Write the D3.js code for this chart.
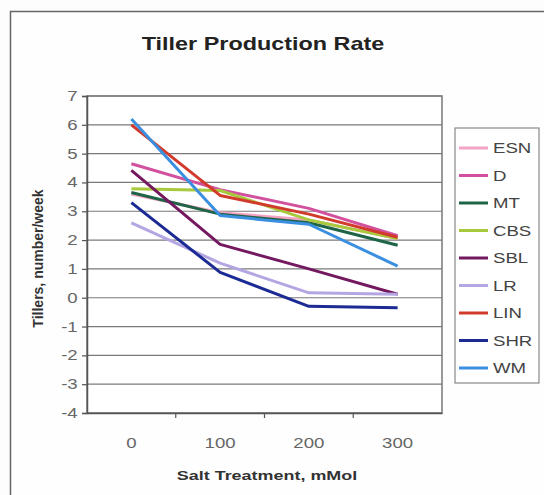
<!DOCTYPE html>
<html>
<head>
<meta charset="utf-8">
<script src="https://cdnjs.cloudflare.com/ajax/libs/d3/7.8.5/d3.min.js"></script>
<style>
  body { margin: 0; background: #fdfdfd; }
  svg { display: block; font-family: Arial, "Liberation Sans", sans-serif; }
</style>
</head>
<body>
<script>
(function(){

    //chart data
    var categories = ["0", "100", "200", "300"];
    var seriesNames = ["ESN", "D", "MT", "CBS", "SBL", "LR", "LIN", "SHR", "WM"];
    var esn = [3.6, 2.95, 2.7, 2.05];
    var d   = [4.65, 3.75, 3.1, 2.15];
    var mt  = [3.65, 2.9, 2.6, 1.82];
    var cbs = [3.78, 3.72, 2.7, 2.05];
    var sbl = [4.42, 1.85, 1.0, 0.12];
    var lr  = [2.6, 1.2, 0.17, 0.12];
    var lin = [6.0, 3.55, 2.9, 2.1];
    var shr = [3.3, 0.88, -0.3, -0.35];
    var wm  = [6.2, 2.85, 2.55, 1.1];
    var yTicks = [-4, -3, -2, -1, 0, 1, 2, 3, 4, 5, 6, 7];

    var seriesValues = [esn, d, mt, cbs, sbl, lr, lin, shr, wm];
    var colors = ["#f3a3c4", "#d2519e", "#1e6447", "#a9c93c", "#74195f",
                  "#b3a6e3", "#d23a2c", "#1c2a94", "#3b8fe0"];

    var width = 544, height = 495;
    var plot = {left: 87, top: 96, right: 442, bottom: 413};
    var stretch = 1.33; //horizontal text stretch seen in the picture

    var svg = d3.select("body")
        .append("svg")
        .attr("width", width)
        .attr("height", height);

    //outer chart border
    svg.append("rect")
        .attr("x", 10.5)
        .attr("y", 11.5)
        .attr("width", 560)
        .attr("height", 520)
        .attr("fill", "#fefefe")
        .attr("stroke", "#666")
        .attr("stroke-width", 1.5);

    var x = d3.scaleBand()
        .domain(categories)
        .range([plot.left, plot.right]);

    var y = d3.scaleLinear()
        .domain([-4, 7])
        .range([plot.bottom, plot.top]);

    //plot area frame
    svg.append("rect")
        .attr("x", plot.left)
        .attr("y", plot.top)
        .attr("width", plot.right - plot.left)
        .attr("height", plot.bottom - plot.top)
        .attr("fill", "#fff")
        .attr("stroke", "#777")
        .attr("stroke-width", 1.5);

    //horizontal gridlines
    svg.append("g")
        .selectAll("line")
        .data(yTicks)
        .enter()
        .append("line")
        .attr("x1", plot.left)
        .attr("x2", plot.right)
        .attr("y1", function(v){ return y(v); })
        .attr("y2", function(v){ return y(v); })
        .attr("stroke", "#7a7a7a")
        .attr("stroke-width", 1.2);

    //y axis
    var yAxis = d3.axisLeft(y)
        .tickValues(yTicks)
        .tickFormat(function(v){ return String(v); })
        .tickSize(5)
        .tickPadding(2);

    var yG = svg.append("g")
        .attr("transform", "translate(" + plot.left + ",0)")
        .call(yAxis);
    yG.select(".domain").attr("stroke", "#555").attr("stroke-width", 1.5);
    yG.selectAll(".tick line").attr("stroke", "#555").attr("stroke-width", 1.2);
    yG.selectAll(".tick text")
        .attr("fill", "#666")
        .attr("transform", "scale(" + stretch + ",1)")
        .style("font-size", "14px");

    //x axis, ticks between categories
    var xAxis = d3.axisBottom(x)
        .tickSize(0)
        .tickPadding(25);

    var xG = svg.append("g")
        .attr("transform", "translate(0," + plot.bottom + ")")
        .call(xAxis);
    xG.select(".domain").attr("stroke", "#555").attr("stroke-width", 1.5);
    xG.selectAll(".tick text")
        .attr("fill", "#666")
        .attr("transform", "scale(" + stretch + ",1)")
        .style("font-size", "14px");

    xG.selectAll(".sep")
        .data(categories.slice(1))
        .enter()
        .append("line")
        .attr("class", "sep")
        .attr("x1", function(c){ return x(c); })
        .attr("x2", function(c){ return x(c); })
        .attr("y1", 0)
        .attr("y2", 5)
        .attr("stroke", "#555")
        .attr("stroke-width", 1.2);

    //series lines
    var line = d3.line()
        .x(function(v, i){ return x(categories[i]) + x.bandwidth() / 2; })
        .y(function(v){ return y(v); });

    svg.append("g")
        .selectAll("path")
        .data(seriesValues)
        .enter()
        .append("path")
        .attr("d", line)
        .attr("fill", "none")
        .attr("stroke", function(v, i){ return colors[i]; })
        .attr("stroke-width", 3)
        .attr("stroke-linejoin", "round");

    //title
    svg.append("text")
        .attr("transform", "translate(263,50) scale(1.3,1)")
        .attr("text-anchor", "middle")
        .style("font-size", "18px")
        .style("font-weight", "bold")
        .attr("fill", "#222")
        .text("Tiller Production Rate");

    //axis titles
    svg.append("text")
        .attr("transform", "translate(43," + ((plot.top + plot.bottom) / 2 + 4) + ") rotate(-90)")
        .attr("text-anchor", "middle")
        .style("font-size", "14px")
        .style("font-weight", "bold")
        .attr("fill", "#333")
        .text("Tillers, number/week");

    svg.append("text")
        .attr("transform", "translate(267,480) scale(" + stretch + ",1)")
        .attr("text-anchor", "middle")
        .style("font-size", "13.5px")
        .style("font-weight", "bold")
        .attr("fill", "#333")
        .text("Salt Treatment, mMol");

    //legend
    var legend = svg.append("g");
    legend.append("rect")
        .attr("x", 455)
        .attr("y", 128)
        .attr("width", 84)
        .attr("height", 255)
        .attr("fill", "#fff")
        .attr("stroke", "#888")
        .attr("stroke-width", 1.2);

    var items = legend.selectAll(".item")
        .data(seriesNames)
        .enter()
        .append("g")
        .attr("class", "item")
        .attr("transform", function(n, i){ return "translate(0," + (148 + i * 27.5) + ")"; });

    items.append("line")
        .attr("x1", 459)
        .attr("x2", 488)
        .attr("y1", 0)
        .attr("y2", 0)
        .attr("stroke", function(n, i){ return colors[i]; })
        .attr("stroke-width", 3);

    items.append("text")
        .attr("transform", "translate(493,5) scale(" + stretch + ",1)")
        .style("font-size", "14px")
        .attr("fill", "#444")
        .text(function(n){ return n; });

})();
</script>
</body>
</html>
